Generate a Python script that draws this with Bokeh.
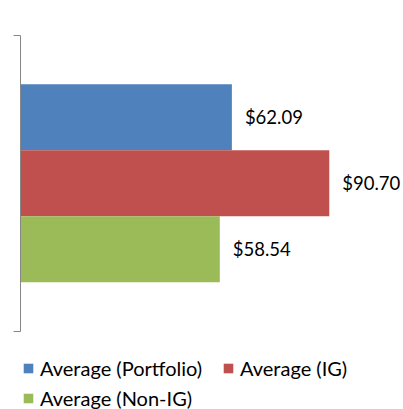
from bokeh.plotting import figure
from bokeh.models import (ColumnDataSource, Range1d, FixedTicker, Legend, LegendItem,
                          CustomJSTickFormatter)
from bokeh.core.properties import value
from bokeh.embed import file_html
from bokeh.resources import INLINE

# data
series = ["Average (Portfolio)", "Average (IG)", "Average (Non-IG)"]
values = [62.09, 90.70, 58.54]
colors = ["#4F81BD", "#C0504D", "#9BBB59"]
labels = ["$%.2f" % v for v in values]

bar_h = 0.223
offsets = [bar_h, 0.0, -bar_h]

FONT = "Lato"

W, H = 403, 409
p = figure(width=W, height=H, output_backend="svg", toolbar_location=None,
           x_axis_location=None, y_axis_location="left",
           x_range=Range1d(0, 112.5), y_range=Range1d(-0.7645, 0.6172),
           min_border_left=20, min_border_right=0, min_border_top=0, min_border_bottom=0)
p.outline_line_color = None
p.xgrid.visible = False
p.ygrid.visible = False
p.background_fill_color = "white"
p.border_fill_color = "white"

ax = p.yaxis[0]
ax.bounds = (-0.5, 0.5)
ax.ticker = FixedTicker(ticks=[-0.5, 0.5])
ax.formatter = CustomJSTickFormatter(code="return ''")
ax.major_tick_in = 0
ax.major_tick_out = 7
ax.minor_tick_line_color = None
ax.major_label_standoff = 0
ax.axis_line_color = "#868686"
ax.major_tick_line_color = "#868686"

items = []
for i, (name, v, c, lab, off) in enumerate(zip(series, values, colors, labels, offsets)):
    src = ColumnDataSource(dict(y=[off], v=[v], t=[lab]))
    r = p.hbar(y="y", right="v", left=0, height=bar_h, color=c, line_color=None, source=src)
    p.text(x="v", y="y", text="t", x_offset=13, text_baseline="middle", text_align="left",
           text_font=value(FONT), text_font_size="18.5px", text_color="black", source=src)
    items.append(LegendItem(label=name, renderers=[r]))

legend = Legend(items=items, ncols=2, orientation="horizontal",
                location=(2, -1), padding=0, margin=0, spacing=6,
                glyph_width=12, glyph_height=12, label_standoff=6,
                label_height=24, label_width=176,
                label_text_font=FONT, label_text_font_size="20px", label_text_color="black",
                border_line_color=None, background_fill_alpha=0)
p.add_layout(legend, "center")

open("out.html", "w").write(file_html(p, INLINE))
